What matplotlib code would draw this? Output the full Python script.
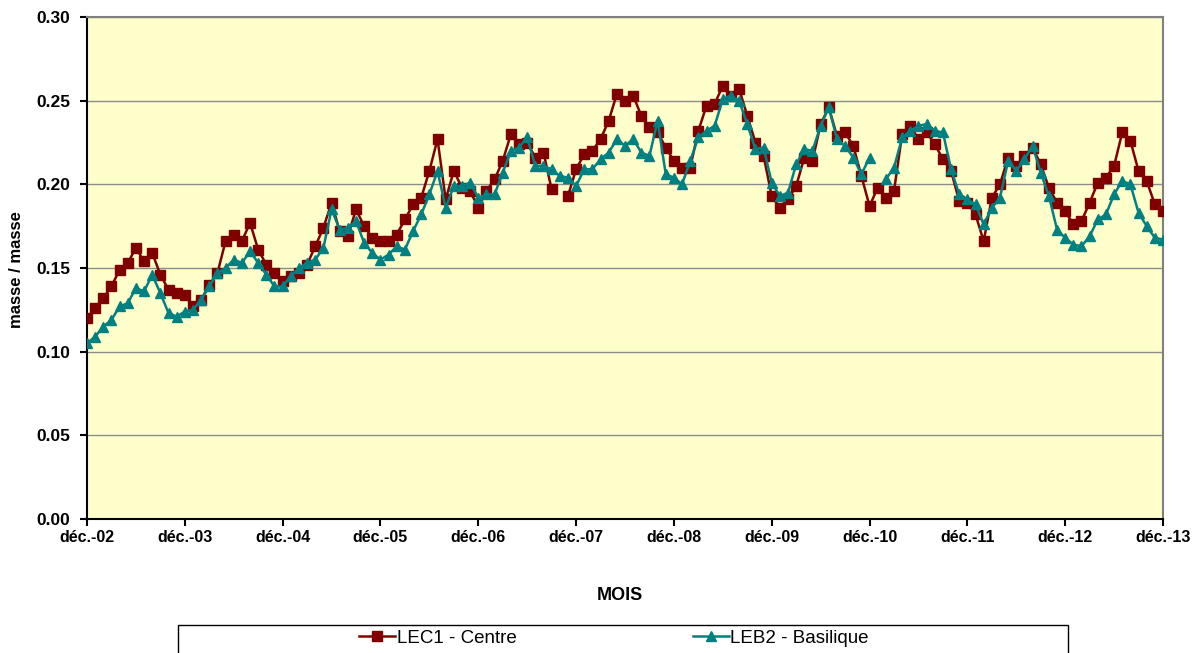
import numpy as np
import matplotlib
matplotlib.use("Agg")
import matplotlib.pyplot as plt
from matplotlib.patches import Rectangle

# monthly values, déc. 2002 -> déc. 2013 (NaN = missing month)
tick_labels = ["déc.-02", "déc.-03", "déc.-04", "déc.-05", "déc.-06", "déc.-07",
               "déc.-08", "déc.-09", "déc.-10", "déc.-11", "déc.-12", "déc.-13"]

lec1_centre = [
    0.120, 0.126, 0.132, 0.139, 0.149, 0.153, 0.162, 0.154, 0.159, 0.146, 0.137, 0.135,
    0.134, 0.127, 0.131, 0.140, 0.147, 0.166, 0.170, 0.166, 0.177, 0.161, 0.152, 0.147,
    0.142, 0.145, 0.147, 0.152, 0.163, 0.174, 0.189, 0.172, 0.169, 0.185, 0.175, 0.168,
    0.166, 0.166, 0.170, 0.179, 0.188, 0.192, 0.208, 0.227, 0.191, 0.208, 0.198, 0.196,
    0.186, 0.196, 0.203, 0.214, 0.230, 0.224, 0.225, 0.216, 0.219, 0.197, np.nan, 0.193,
    0.209, 0.218, 0.220, 0.227, 0.238, 0.254, 0.250, 0.253, 0.241, 0.234, 0.231, 0.222,
    0.214, 0.210, 0.210, 0.232, 0.247, 0.248, 0.259, 0.253, 0.257, 0.241, 0.225, 0.217,
    0.193, 0.186, 0.191, 0.199, 0.216, 0.214, 0.236, 0.246, 0.229, 0.231, 0.223, 0.205,
    0.187, 0.198, 0.192, 0.196, 0.230, 0.235, 0.227, 0.231, 0.224, 0.215, 0.208, 0.190,
    0.189, 0.182, 0.166, 0.192, 0.200, 0.216, 0.211, 0.217, 0.222, 0.212, 0.198, 0.189,
    0.184, 0.176, 0.178, 0.189, 0.201, 0.204, 0.211, 0.231, 0.226, 0.208, 0.202, 0.188,
    0.184,
]

leb2_basilique = [
    0.105, 0.109, 0.115, 0.119, 0.127, 0.129, 0.138, 0.136, 0.146, 0.135, 0.123, 0.121,
    0.124, 0.125, 0.131, 0.139, 0.147, 0.150, 0.155, 0.153, 0.160, 0.153, 0.146, 0.139,
    0.139, 0.145, 0.150, 0.153, 0.155, 0.162, 0.185, 0.173, 0.174, 0.178, 0.165, 0.159,
    0.155, 0.158, 0.163, 0.161, 0.172, 0.182, 0.194, 0.208, 0.186, 0.199, 0.199, 0.201,
    0.192, 0.194, 0.194, 0.207, 0.220, 0.222, 0.228, 0.211, 0.211, 0.209, 0.205, 0.204,
    0.199, 0.209, 0.209, 0.215, 0.219, 0.227, 0.223, 0.227, 0.219, 0.217, 0.238, 0.206,
    0.204, 0.200, 0.214, 0.228, 0.232, 0.235, 0.251, 0.253, 0.250, 0.236, 0.221, 0.222,
    0.201, 0.193, 0.195, 0.212, 0.221, 0.220, 0.235, 0.246, 0.227, 0.223, 0.216, 0.206,
    0.216, np.nan, 0.203, 0.210, 0.228, 0.232, 0.235, 0.236, 0.232, 0.231, 0.209, 0.194,
    0.191, 0.188, 0.176, 0.186, 0.192, 0.214, 0.208, 0.215, 0.223, 0.207, 0.193, 0.173,
    0.168, 0.164, 0.163, 0.169, 0.179, 0.182, 0.194, 0.202, 0.200, 0.183, 0.175, 0.168,
    0.167,
]

months = np.arange(len(lec1_centre))

plt.rcParams["font.family"] = ["Liberation Sans", "DejaVu Sans"]

fig = plt.figure(figsize=(11.97, 6.53), dpi=100)
ax = fig.add_axes([87 / 1197, 1 - 519 / 653, 1076 / 1197, 502 / 653])
ax.set_facecolor("#FFFFCC")

ax.plot(months, lec1_centre, color="#800000", linewidth=1.8, marker="s",
        markersize=6.5, label="LEC1 - Centre", zorder=3)
ax.plot(months, leb2_basilique, color="#008080", linewidth=1.8, marker="^",
        markersize=6.5, label="LEB2 - Basilique", zorder=4)

ax.set_xlim(0, len(months) - 1)
ax.set_ylim(0, 0.30)
ax.set_yticks(np.arange(0, 0.301, 0.05))
ax.yaxis.set_major_formatter(matplotlib.ticker.FormatStrFormatter("%.2f"))
ax.set_xticks(np.arange(0, len(months), 12))
ax.set_xticklabels(tick_labels)
ax.grid(axis="y", color="#8C8C8C", linewidth=1.0)
ax.set_axisbelow(True)

for side in ["top", "right"]:
    ax.spines[side].set_color("#808080")
    ax.spines[side].set_linewidth(1.5)
for side in ["left", "bottom"]:
    ax.spines[side].set_color("black")
    ax.spines[side].set_linewidth(1.5)

ax.tick_params(axis="y", direction="out", length=5, width=1.5, pad=7, labelsize=12.5)
ax.tick_params(axis="x", direction="out", length=5, width=1.5, pad=3, labelsize=11.5)
for lab in ax.get_xticklabels() + ax.get_yticklabels():
    lab.set_fontweight("bold")

fig.text(17 / 1197, 1 - 270 / 653, "masse / masse", fontsize=12, fontweight="bold",
         rotation=90, ha="center", va="center")
fig.text(620 / 1197, 1 - 595 / 653, "MOIS", fontsize=13, fontweight="bold",
         ha="center", va="center")

# legend box runs off the bottom of the picture
fig.patches.append(Rectangle((178 / 1197, -0.05), 890 / 1197, 0.05 + 28 / 653,
                             transform=fig.transFigure, facecolor="white",
                             edgecolor="black", linewidth=1.0))
handles, labels = ax.get_legend_handles_labels()
fig.legend(handles, labels, loc="center left", bbox_to_anchor=(350 / 1197, 1 - 638 / 653),
           ncol=2, frameon=False, fontsize=13.5, borderpad=0, handlelength=1.9,
           handletextpad=0.1, columnspacing=9.4, markerscale=1.0)

fig.savefig("out.png", dpi=100, facecolor="white")
